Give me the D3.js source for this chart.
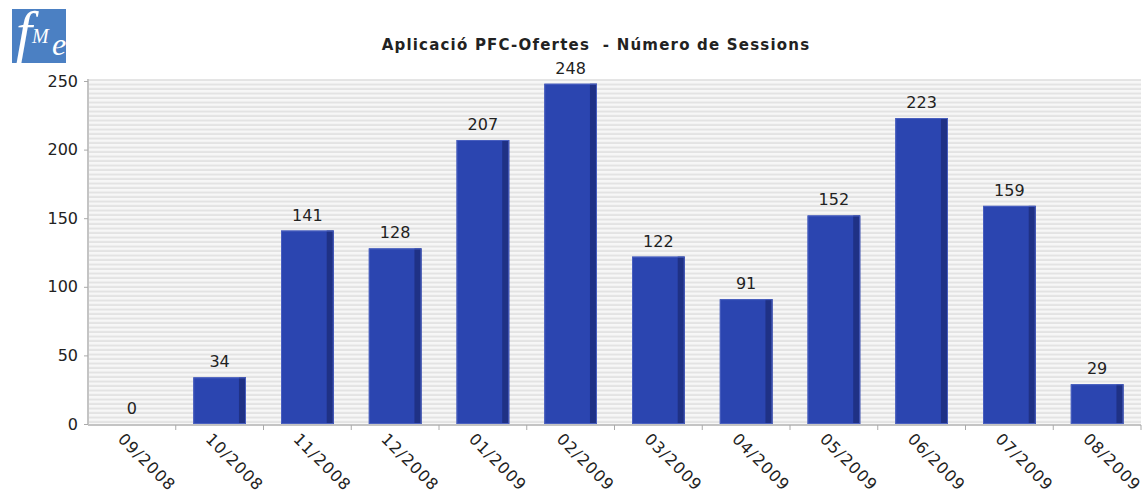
<!DOCTYPE html>
<html>
<head>
<meta charset="utf-8">
<script src="https://cdn.jsdelivr.net/npm/d3@7"></script>
<style>
  html, body { margin: 0; padding: 0; background: #fff; }
  svg { display: block; }
  text { font-family: "DejaVu Sans", sans-serif; fill: #222; }
</style>
</head>
<body>
<svg id="chart" width="1148" height="496"></svg>
<script>
// Monthly session counts for the PFC-Ofertes application
const months = ["09/2008", "10/2008", "11/2008", "12/2008", "01/2009", "02/2009",
                "03/2009", "04/2009", "05/2009", "06/2009", "07/2009", "08/2009"];
const sessions = [0, 34, 141, 128, 207, 248, 122, 91, 152, 223, 159, 29];
const yTicks = [0, 50, 100, 150, 200, 250];
const chartTitle = "Aplicació PFC-Ofertes  - Número de Sessions";

const svg = d3.select("#chart");
const plot = { left: 88, right: 1141, top: 79, bottom: 425 };

const x = d3.scaleBand()
  .domain(months)
  .range([plot.left, plot.right])
  .paddingInner(0.4)
  .paddingOuter(0.2);

const y = d3.scaleLinear()
  .domain([0, 250])
  .range([plot.bottom - 1, plot.top + 2]);

// striped plot background
const defs = svg.append("defs");
const pat = defs.append("pattern")
  .attr("id", "stripes")
  .attr("patternUnits", "userSpaceOnUse")
  .attr("width", 8).attr("height", 4.5);
pat.append("rect").attr("width", 8).attr("height", 4.5).attr("fill", "#f7f7f7");
pat.append("rect").attr("y", 2.5).attr("width", 8).attr("height", 2).attr("fill", "#e3e3e3");

svg.append("rect")
  .attr("x", plot.left).attr("y", plot.top)
  .attr("width", plot.right - plot.left).attr("height", plot.bottom - plot.top)
  .attr("fill", "url(#stripes)");

// logo
const logo = svg.append("g").attr("transform", "translate(12,9)");
logo.append("rect").attr("width", 54).attr("height", 54).attr("fill", "#4b80c3");
const serif = "'Liberation Serif', 'DejaVu Serif', serif";
logo.append("text").attr("x", 4).attr("y", 42)
  .style("font-family", serif)
  .style("font-style", "italic").style("font-size", "58px").style("fill", "#fff")
  .text("f");
logo.append("text").attr("x", 20).attr("y", 34)
  .style("font-family", serif)
  .style("font-style", "italic").style("font-size", "20px").style("fill", "#fff")
  .text("M");
logo.append("text").attr("x", 40).attr("y", 46)
  .style("font-family", serif)
  .style("font-style", "italic").style("font-size", "32px").style("fill", "#fff")
  .text("e");

// title
svg.append("text")
  .attr("x", 596).attr("y", 50)
  .attr("text-anchor", "middle")
  .style("white-space", "pre")
  .style("font-weight", "bold").style("font-size", "15px")
  .style("letter-spacing", "1.2px")
  .text(chartTitle);

// y axis
const yAxis = d3.axisLeft(y).tickValues(yTicks).tickSize(4).tickPadding(6);
const gy = svg.append("g").attr("transform", `translate(${plot.left},0)`).call(yAxis);
gy.select(".domain").attr("stroke", "#c4c4c4").attr("stroke-width", 2)
  .attr("d", `M0,${plot.top}V${plot.bottom}`);
gy.selectAll(".tick line").attr("stroke", "#aaa");
gy.selectAll(".tick text").style("font-size", "16px").style("font-family", "'DejaVu Sans', sans-serif").attr("fill", "#222");

// x axis line with ticks at category boundaries
const step = x.step();
svg.append("line")
  .attr("x1", plot.left).attr("x2", plot.right)
  .attr("y1", plot.bottom).attr("y2", plot.bottom)
  .attr("stroke", "#c4c4c4").attr("stroke-width", 2);
svg.append("g").selectAll("line")
  .data(d3.range(1, months.length + 1))
  .join("line")
  .attr("x1", i => plot.left + i * step).attr("x2", i => plot.left + i * step)
  .attr("y1", plot.bottom).attr("y2", plot.bottom + 5)
  .attr("stroke", "#aaa");

// category labels, rotated
svg.append("g").selectAll("text")
  .data(months)
  .join("text")
  .attr("transform", d => `translate(${x(d) + x.bandwidth() / 2 - 15},${plot.bottom + 15}) rotate(45)`)
  .style("font-size", "16px")
  .style("letter-spacing", "1px")
  .text(d => d);

// bars: front face plus darker side strip
const sideW = 7;
const bars = svg.append("g").selectAll("g")
  .data(months.map((m, i) => ({ m, v: sessions[i] })))
  .join("g");
bars.filter(d => d.v > 0).append("rect")
  .attr("x", d => x(d.m)).attr("y", d => y(d.v))
  .attr("width", x.bandwidth()).attr("height", d => y(0) - y(d.v))
  .attr("fill", "#2b45b0");
bars.filter(d => d.v > 0).append("rect")
  .attr("x", d => x(d.m) + x.bandwidth() - sideW).attr("y", d => y(d.v))
  .attr("width", sideW).attr("height", d => y(0) - y(d.v))
  .attr("fill", "#1f3185");
bars.filter(d => d.v > 0).append("rect")
  .attr("x", d => x(d.m) + 0.5).attr("y", d => y(d.v) + 0.5)
  .attr("width", x.bandwidth() - 1).attr("height", d => y(0) - y(d.v) - 1)
  .attr("fill", "none").attr("stroke", "#4a60c0").attr("stroke-width", 1);

// value labels
bars.append("text")
  .attr("x", d => x(d.m) + x.bandwidth() / 2)
  .attr("y", d => y(d.v) - 10)
  .attr("text-anchor", "middle")
  .style("font-size", "16px")
  .text(d => d.v);
</script>
</body>
</html>
